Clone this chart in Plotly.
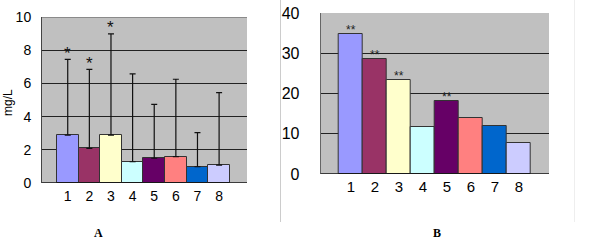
import plotly.graph_objects as go

# ---- data ----
groups = ["1", "2", "3", "4", "5", "6", "7", "8"]
bar_colors = ["#9999FF", "#993366", "#FFFFCC", "#CCFFFF", "#660066", "#FF8080", "#0066CC", "#CCCCFF"]

a_means = [2.89, 2.09, 2.89, 1.28, 1.49, 1.59, 0.98, 1.08]
a_upper = [7.45, 6.85, 8.98, 6.57, 4.74, 6.25, 3.03, 5.44]  # top of error bar
a_marks = ["*", "*", "*", "", "", "", "", ""]

b_values = [34.8, 28.5, 23.4, 11.6, 18.1, 13.9, 11.85, 7.8]
b_marks = ["**", "**", "**", "", "**", "", "", ""]

a_ticks = [0, 2, 4, 6, 8, 10]
b_ticks = [0, 10, 20, 30, 40]

W, H = 600, 241
xs = list(range(1, len(groups) + 1))
a_err = [u - m for u, m in zip(a_upper, a_means)]

fig = go.Figure()
fig.add_trace(go.Bar(
    x=xs, y=a_means, marker=dict(color=bar_colors, line=dict(color="#333333", width=1)),
    error_y=dict(type="data", symmetric=False, array=a_err, arrayminus=[0] * 8,
                 color="#111111", thickness=1.2, width=3),
    xaxis="x", yaxis="y", width=1.0, showlegend=False))
fig.add_trace(go.Bar(
    x=xs, y=b_values, marker=dict(color=bar_colors, line=dict(color="#333333", width=1)),
    xaxis="x2", yaxis="y2", width=1.0, showlegend=False))

font = "Liberation Sans, Arial, sans-serif"

def px_x(a, b):
    return [a / W, b / W]

def px_y(top, bottom):
    return [(H - bottom) / H, (H - top) / H]

fig.update_layout(
    width=W, height=H, margin=dict(l=0, r=0, t=0, b=0, autoexpand=False),
    paper_bgcolor="white", plot_bgcolor="#C0C0C0", bargap=0,
    font=dict(family=font, color="#000000"),
    xaxis=dict(domain=px_x(42, 247), range=[-0.19, 9.29], tickvals=xs, ticktext=groups,
               showgrid=False, zeroline=False, showline=False, ticks="", automargin=False,
               tickfont=dict(size=14, color="#000000"), ticklabelstandoff=3, anchor="y"),
    yaxis=dict(domain=px_y(17, 183), range=[0, 10], tickvals=a_ticks, automargin=False,
               showgrid=True, gridcolor="#222222", gridwidth=1, zeroline=False,
               showline=True, linecolor="#444444", linewidth=1, ticks="",
               tickfont=dict(size=14, color="#000000"), ticklabelstandoff=7, anchor="x"),
    xaxis2=dict(domain=px_x(320.7, 549), range=[-0.26, 9.25], tickvals=xs, ticktext=groups,
                showgrid=False, zeroline=False, showline=False, ticks="", automargin=False,
                tickfont=dict(size=15, color="#000000"), ticklabelstandoff=2, anchor="y2"),
    yaxis2=dict(domain=px_y(13, 174), range=[0, 40], tickvals=b_ticks, automargin=False,
                showgrid=True, gridcolor="#222222", gridwidth=1, zeroline=False,
                showline=True, linecolor="#666666", linewidth=1, ticks="",
                tickfont=dict(size=16, color="#000000"), ticklabelstandoff=17, anchor="x2"),
)

# bottom axis lines (baseline)
fig.add_shape(type="line", xref="x domain", yref="y", x0=0, x1=1, y0=0, y1=0,
              line=dict(color="#111111", width=1.5))
fig.add_shape(type="line", xref="x2 domain", yref="y2", x0=0, x1=1, y0=0, y1=0,
              line=dict(color="#111111", width=1.5))
# top border of A plot
fig.add_shape(type="line", xref="x domain", yref="y", x0=0, x1=1, y0=10, y1=10,
              line=dict(color="#555555", width=1))

# panel separators
fig.add_shape(type="line", xref="paper", yref="paper", x0=280.5 / W, x1=280.5 / W,
              y0=(H - 222) / H, y1=1, line=dict(color="#CCCCCC", width=1))
fig.add_shape(type="line", xref="paper", yref="paper", x0=574.5 / W, x1=574.5 / W,
              y0=(H - 222) / H, y1=1, line=dict(color="#EEEEEE", width=1))

# significance marks
for x, u, m in zip(xs, a_upper, a_marks):
    if m:
        fig.add_annotation(x=x, y=u, xref="x", yref="y", text=m, showarrow=False,
                           xanchor="center", yanchor="middle",
                           yshift=6, font=dict(size=17, color="#111111"))
for x, v, m in zip(xs, b_values, b_marks):
    if m:
        fig.add_annotation(x=x, y=v, xref="x2", yref="y2", text=m, showarrow=False,
                           xanchor="center", yanchor="middle",
                           yshift=4, font=dict(size=12, color="#222222"))

# axis title and panel labels
fig.add_annotation(x=8 / W, y=(H - 103) / H, xref="paper", yref="paper", text="mg/L",
                   xanchor="center", yanchor="middle",
                   textangle=-90, showarrow=False, font=dict(size=12, color="#000000"))
fig.add_annotation(x=98 / W, y=(H - 233) / H, xref="paper", yref="paper", text="<b>A</b>",
                   xanchor="center", yanchor="middle",
                   showarrow=False, font=dict(size=12, family="Liberation Serif, Times New Roman, serif"))
fig.add_annotation(x=437 / W, y=(H - 233) / H, xref="paper", yref="paper", text="<b>B</b>",
                   xanchor="center", yanchor="middle",
                   showarrow=False, font=dict(size=12, family="Liberation Serif, Times New Roman, serif"))

fig.write_html("out.html", config={"displayModeBar": False},
               post_script="document.body.style.margin='0';document.body.style.overflow='hidden';")
